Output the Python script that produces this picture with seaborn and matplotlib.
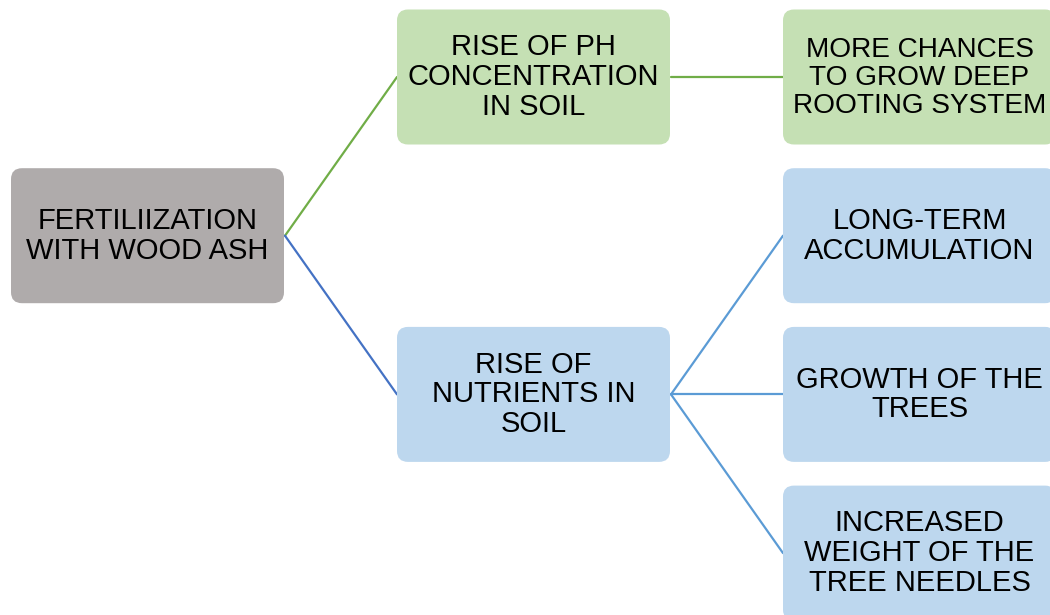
import matplotlib
matplotlib.use("Agg")
import matplotlib.pyplot as plt
from matplotlib.patches import FancyBboxPatch
import pandas as pd
import seaborn as sns

# ── Tree data ────────────────────────────────────────────────
labels = [
    "FERTILIIZATION\nWITH WOOD ASH",
    "RISE OF PH\nCONCENTRATION\nIN SOIL",
    "MORE CHANCES\nTO GROW DEEP\nROOTING SYSTEM",
    "RISE OF\nNUTRIENTS IN\nSOIL",
    "LONG-TERM\nACCUMULATION",
    "GROWTH OF THE\nTREES",
    "INCREASED\nWEIGHT OF THE\nTREE NEEDLES",
]
level  = [0, 1, 2, 1, 2, 2, 2]
slot   = [1, 0, 0, 2, 1, 2, 3]
parent = [None, 0, 1, 0, 3, 3, 3]
branch = ["root", "ph", "ph", "nut", "nut", "nut", "nut"]

box_colors = {"root": "#AFABAB", "ph": "#C5E0B4", "nut": "#BDD7EE"}
edge_colors = {"ph": "#70AD47", "root_nut": "#4472C4", "nut": "#5B9BD5"}

# ── Layout (pixels) ──────────────────────────────────────────
W, H = 1050, 615
X0, DX = 11, 386
Y0, DY = 77, 158.7
BW, BH = 273, 135
R = 11
FS = 21
FS_SHRUNK = {2: 20.2}   # that box text is auto-shrunk in the original

sns.set_theme(style="white")
plt.rcParams["font.family"] = ["Liberation Sans", "DejaVu Sans"]

fig = plt.figure(figsize=(W / 100, H / 100), dpi=100)
ax = fig.add_axes([0, 0, 1, 1])
ax.axis("off")

def left(i):  return X0 + level[i] * DX
def cy(i):    return Y0 + slot[i] * DY

# edges
rows = []
for i, p in enumerate(parent):
    if p is None:
        continue
    if branch[i] == "ph":
        c = "ph"
    elif p == 0:
        c = "root_nut"
    else:
        c = "nut"
    rows.append({"edge": i, "x": left(p) + BW + 1, "y": cy(p), "col": c})
    rows.append({"edge": i, "x": left(i), "y": cy(i), "col": c})
edges = pd.DataFrame(rows)
sns.lineplot(data=edges, x="x", y="y", units="edge", hue="col",
             palette=edge_colors, estimator=None, sort=False,
             linewidth=1.6, legend=False, ax=ax)

# boxes
for i, txt in enumerate(labels):
    x, y = left(i), cy(i) - BH / 2
    ax.add_patch(FancyBboxPatch((x + R, y + R), BW - 2 * R, BH - 2 * R,
                                boxstyle=f"round,pad={R}",
                                fc=box_colors[branch[i]], ec="none", zorder=2))
    fs = FS_SHRUNK.get(i, FS)
    ax.text(x + BW / 2, cy(i) + (1 if i in FS_SHRUNK else 0), txt,
            ha="center", va="center", fontsize=fs,
            linespacing=1.08 * FS / fs, color="black", zorder=3)

ax.set_xlim(0, W)
ax.set_ylim(H, 0)
fig.savefig("out.png", dpi=100)
